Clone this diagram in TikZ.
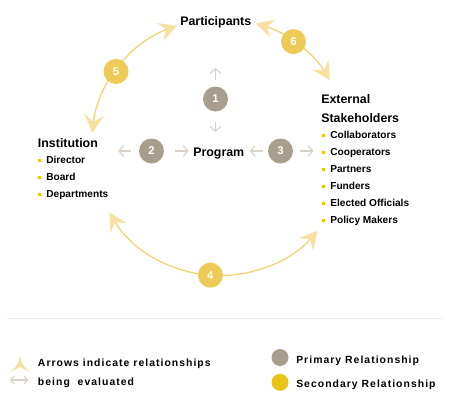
\documentclass[tikz,border=0pt]{standalone}
\usepackage{fontspec}
\setmainfont{Liberation Sans}
\usetikzlibrary{arrows.meta,calc}

\definecolor{primgray}{HTML}{A89E8E}
\definecolor{secyellow}{HTML}{EECB58}
\definecolor{legyellow}{HTML}{E8C514}
\definecolor{arcyellow}{HTML}{F0D26E}
\definecolor{tipyellow}{HTML}{F8E0A0}
\definecolor{faintgray}{HTML}{DAD2C6}
\definecolor{dotyellow}{HTML}{F2C100}
\definecolor{rulegray}{HTML}{EEEEEE}

\newcommand{\dotitem}{{\color{dotyellow}\rule[0.28ex]{2.2pt}{2.2pt}}\hspace{4pt}}

\begin{document}
\begin{tikzpicture}[
        x=0.75pt, y=0.75pt,
        arcrel/.style={arcyellow, line width=0.9pt,
            {Stealth[length=13.5pt,width=14pt,inset=5pt,color=tipyellow]}-{Stealth[length=13.5pt,width=14pt,inset=5pt,color=tipyellow]}},
        faint/.style={faintgray, line width=0.9pt, -{Straight Barb[length=3.5pt,width=8pt]}},
        relnum/.style={circle, inner sep=0pt, minimum size=18.75pt, text=white,
            font=\fontsize{8.5}{10}\selectfont\bfseries},
        title/.style={font=\fontsize{9.3}{11}\selectfont\bfseries, inner sep=0pt, anchor=base west},
        item/.style={font=\fontsize{7.6}{9}\selectfont\bfseries, inner sep=0pt, anchor=base west},
        legtxt/.style={font=\fontsize{7.8}{9}\selectfont\bfseries\addfontfeatures{LetterSpace=10},
            inner sep=0pt, anchor=base west}]

    \useasboundingbox (0,0) rectangle (450,-407);

    % --- Circle of secondary relationships
    \coordinate (O) at (220,-147);
    \def\R{96.4pt}
    \foreach \a/\b in {173.8/109.5, 73.8/31.3, 210.6/319.4}
        \draw[arcrel] ($(O)+(\a:\R)$) arc[start angle=\a, end angle=\b, radius=\R];
    \foreach \n/\a in {5/144, 6/55.1, 4/265.7}
        \node[relnum, fill=secyellow] (n\n) at ($(O)+(\a:\R)$) {\n};

    % --- Primary relationships
    \node[relnum, fill=primgray] (n1) at (215.5,-99) {1};
    \node[relnum, fill=primgray] (n2) at (151.5,-151) {2};
    \node[relnum, fill=primgray] (n3) at (280.5,-151) {3};

    \draw[faint] ($(n1.north)+(0,4.9pt)$) -- ++(0,8.8pt);
    \draw[faint] ($(n1.south)+(0,-7.6pt)$) -- ++(0,-7.5pt);
    \draw[faint] ($(n2.west)+(-5.5pt,0)$) -- ++(-10pt,0);
    \draw[faint] ($(n2.east)+(8.25pt,0)$) -- ++(10pt,0);
    \draw[faint] ($(n3.west)+(-3.5pt,0)$) -- ++(-10pt,0);
    \draw[faint] ($(n3.east)+(5.25pt,0)$) -- ++(10pt,0);

    % --- Groups
    \node[title] (part) at (180,-26) {Participants};
    \node[title] (prog) at (193,-156.3) {Program};
    \node[title] (inst) at (37.7,-147) {Institution};
    \node[title] (ext) at (321,-103) {External};
    \node[title] (stk) at (321,-122.5) {Stakeholders};

    \foreach \t [count=\k] in {Director,Board,Departments}
        \node[item] (inst\k) at (37.8,{-146.5-17*\k}) {\dotitem\t};
    \foreach \t [count=\k] in {Collaborators,Cooperators,Partners,Funders,Elected Officials,Policy Makers}
        \node[item] (stk\k) at (321.8,{-121.5-17*\k}) {\dotitem\t};

    % --- Legend
    \draw[rulegray, line width=0.8pt] (7,-318.3) -- (443,-318.3);
    \fill[tipyellow] (20,-355) .. controls (21.5,-364) .. (29,-371.5) -- (20,-367)
                     -- (11,-371.5) .. controls (18.5,-364) .. (20,-355) -- cycle;
    \draw[faint, {Straight Barb[length=2.5pt,width=5.5pt]}-{Straight Barb[length=2.5pt,width=5.5pt]}]
        (10,-380) -- (28.3,-380);
    \node[legtxt] (leg1) at (37.7,-366.7) {Arrows indicate relationships};
    \node[legtxt] (leg2) at (37.7,-385) {being\ \ evaluated};

    \node[circle, fill=primgray, minimum size=12.75pt, inner sep=0pt] (lp) at (280,-357.5) {};
    \node[circle, fill=legyellow, minimum size=12.75pt, inner sep=0pt] (ls) at (280,-382.3) {};
    \node[legtxt] (lpt) at (296,-363.3) {Primary Relationship};
    \node[legtxt] (lst) at (296,-387.3) {Secondary Relationship};

\end{tikzpicture}
\end{document}
